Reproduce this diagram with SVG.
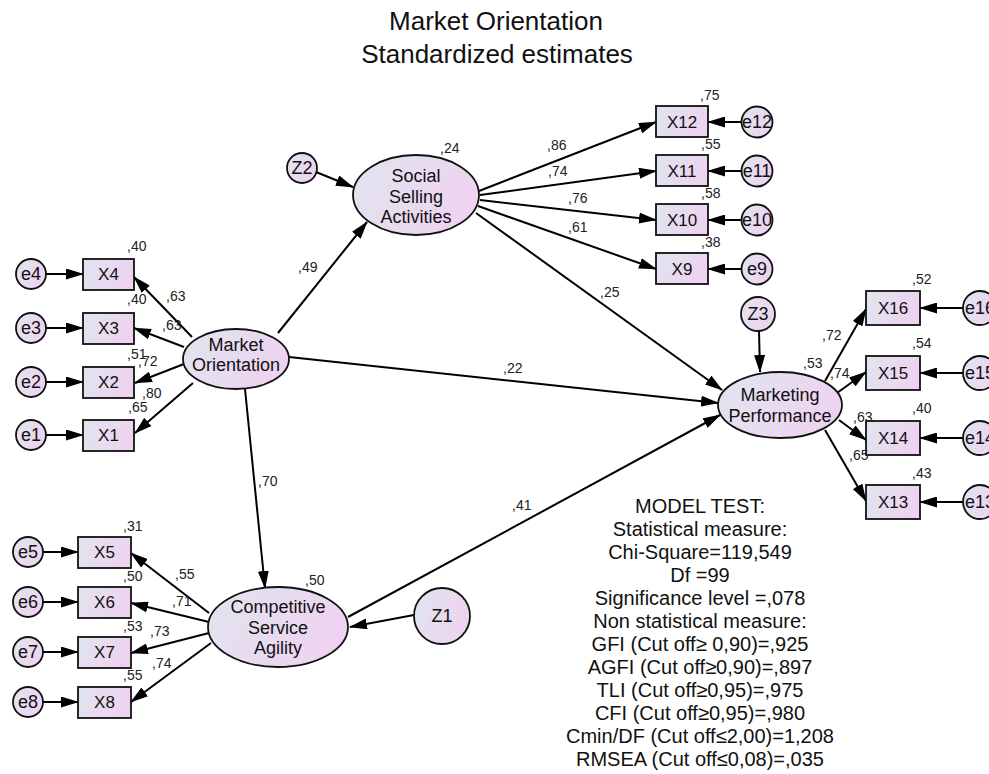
<svg xmlns="http://www.w3.org/2000/svg" width="989" height="774" viewBox="0 0 989 774">
<defs>
<linearGradient id="g" x1="0" y1="0" x2="1" y2="0.3">
<stop offset="0" stop-color="#e0e5ef"/>
<stop offset="1" stop-color="#eed3f0"/>
</linearGradient>
<marker id="ah" viewBox="0 0 18 11" refX="17" refY="5.5" markerWidth="18" markerHeight="11" markerUnits="userSpaceOnUse" orient="auto">
<path d="M0,0 L18,5.5 L0,11 z" fill="#000"/>
</marker>
</defs>
<style>
.n{fill:url(#g);stroke:#111;stroke-width:1.8}
.t{font-family:"Liberation Sans",Arial,sans-serif;font-size:18px;fill:#111;text-anchor:middle}
.bx{font-family:"Liberation Sans",Arial,sans-serif;font-size:17px;fill:#111;text-anchor:middle}
.l{font-family:"Liberation Sans",Arial,sans-serif;font-size:14px;fill:#222}
.c line{stroke:#000;stroke-width:2;marker-end:url(#ah)}
.title{font-family:"Liberation Sans",Arial,sans-serif;font-size:26px;fill:#111;text-anchor:middle}
.st{font-family:"Liberation Sans",Arial,sans-serif;font-size:20px;fill:#111;text-anchor:middle}
</style>
<rect width="989" height="774" fill="#fff"/>
<g id="title">
<text class="title" x="496" y="30">Market Orientation</text>
<text class="title" x="497" y="63">Standardized estimates</text>
</g>
<g class="c" id="connectors">
<line x1="46" y1="274" x2="83" y2="274"/>
<line x1="46" y1="328" x2="83" y2="328"/>
<line x1="46" y1="382" x2="83" y2="382"/>
<line x1="46" y1="435" x2="83" y2="435"/>
<line x1="43" y1="552" x2="78" y2="552"/>
<line x1="43" y1="602" x2="78" y2="602"/>
<line x1="43" y1="652" x2="78" y2="652"/>
<line x1="43" y1="702" x2="78" y2="702"/>
<line x1="209" y1="613" x2="131" y2="553"/>
<line x1="209" y1="622" x2="131" y2="603"/>
<line x1="209" y1="633" x2="131" y2="653"/>
<line x1="211" y1="643" x2="131" y2="702"/>
<line x1="192" y1="337" x2="134" y2="277"/>
<line x1="184" y1="347" x2="134" y2="328"/>
<line x1="184" y1="364" x2="135" y2="383"/>
<line x1="193" y1="383" x2="135" y2="433"/>
<line x1="278" y1="333" x2="367" y2="222"/>
<line x1="289" y1="357" x2="718" y2="403"/>
<line x1="245" y1="389" x2="265" y2="588"/>
<line x1="479" y1="191" x2="656" y2="122"/>
<line x1="480" y1="195" x2="656" y2="171"/>
<line x1="480" y1="200" x2="656" y2="220"/>
<line x1="478" y1="206" x2="656" y2="269"/>
<line x1="476" y1="213" x2="722" y2="390"/>
<line x1="316" y1="172" x2="353" y2="187"/>
<line x1="759" y1="331" x2="760" y2="372"/>
<line x1="348" y1="617" x2="720" y2="415"/>
<line x1="414" y1="615" x2="350" y2="627"/>
<line x1="825" y1="381" x2="866" y2="309"/>
<line x1="837" y1="393" x2="866" y2="372"/>
<line x1="839" y1="420" x2="866" y2="440"/>
<line x1="825" y1="430" x2="866" y2="501"/>
<line x1="963" y1="308" x2="920" y2="308"/>
<line x1="963" y1="373" x2="920" y2="373"/>
<line x1="963" y1="438" x2="920" y2="438"/>
<line x1="963" y1="502" x2="920" y2="502"/>
<line x1="742" y1="122" x2="708" y2="122"/>
<line x1="742" y1="171" x2="708" y2="171"/>
<line x1="742" y1="220" x2="708" y2="220"/>
<line x1="742" y1="269" x2="708" y2="269"/>
</g>
<g id="MO"><ellipse class="n" cx="236" cy="359" rx="53" ry="30"/><text class="t" x="236" y="351">Market</text><text class="t" x="236" y="371">Orientation</text></g>
<g id="SSA"><ellipse class="n" cx="416" cy="195" rx="63" ry="40"/><text class="t" x="416" y="182">Social</text><text class="t" x="416" y="203">Selling</text><text class="t" x="416" y="223">Activities</text></g>
<g id="CSA"><ellipse class="n" cx="278" cy="627" rx="70" ry="40"/><text class="t" x="278" y="613">Competitive</text><text class="t" x="278" y="634">Service</text><text class="t" x="278" y="654">Agility</text></g>
<g id="MP"><ellipse class="n" cx="780" cy="405" rx="62" ry="33"/><text class="t" x="780" y="401">Marketing</text><text class="t" x="780" y="422">Performance</text></g>
<g id="Z1"><circle class="n" cx="442" cy="616" r="28"/><text class="t" x="442" y="622">Z1</text></g>
<g id="Z2"><circle class="n" cx="302" cy="168" r="15"/><text class="t" x="302" y="174">Z2</text></g>
<g id="Z3"><circle class="n" cx="758" cy="314" r="17"/><text class="t" x="758" y="320">Z3</text></g>
<g id="X4"><rect class="n" x="83" y="259" width="51" height="31"/><text class="bx" x="108.5" y="280">X4</text></g>
<g id="X3"><rect class="n" x="83" y="313" width="51" height="31"/><text class="bx" x="108.5" y="334">X3</text></g>
<g id="X2"><rect class="n" x="83" y="367" width="51" height="31"/><text class="bx" x="108.5" y="388">X2</text></g>
<g id="X1"><rect class="n" x="83" y="420" width="51" height="31"/><text class="bx" x="108.5" y="441">X1</text></g>
<g id="e4"><circle class="n" cx="31" cy="274" r="15"/><text class="t" x="31" y="280">e4</text></g>
<g id="e3"><circle class="n" cx="31" cy="328" r="15"/><text class="t" x="31" y="334">e3</text></g>
<g id="e2"><circle class="n" cx="31" cy="382" r="15"/><text class="t" x="31" y="388">e2</text></g>
<g id="e1"><circle class="n" cx="31" cy="435" r="15"/><text class="t" x="31" y="441">e1</text></g>
<g id="X5"><rect class="n" x="78" y="537" width="53" height="31"/><text class="bx" x="104.5" y="558">X5</text></g>
<g id="X6"><rect class="n" x="78" y="587" width="53" height="31"/><text class="bx" x="104.5" y="608">X6</text></g>
<g id="X7"><rect class="n" x="78" y="637" width="53" height="31"/><text class="bx" x="104.5" y="658">X7</text></g>
<g id="X8"><rect class="n" x="78" y="687" width="53" height="31"/><text class="bx" x="104.5" y="708">X8</text></g>
<g id="e5"><circle class="n" cx="28" cy="552" r="15"/><text class="t" x="28" y="558">e5</text></g>
<g id="e6"><circle class="n" cx="28" cy="602" r="15"/><text class="t" x="28" y="608">e6</text></g>
<g id="e7"><circle class="n" cx="28" cy="652" r="15"/><text class="t" x="28" y="658">e7</text></g>
<g id="e8"><circle class="n" cx="28" cy="702" r="15"/><text class="t" x="28" y="708">e8</text></g>
<g id="X12"><rect class="n" x="656" y="106" width="52" height="31"/><text class="bx" x="682" y="128">X12</text></g>
<g id="X11"><rect class="n" x="656" y="155" width="52" height="31"/><text class="bx" x="682" y="177">X11</text></g>
<g id="X10"><rect class="n" x="656" y="204" width="52" height="31"/><text class="bx" x="682" y="226">X10</text></g>
<g id="X9"><rect class="n" x="656" y="253" width="52" height="31"/><text class="bx" x="682" y="275">X9</text></g>
<g id="e12"><circle class="n" cx="757" cy="122" r="15.5"/><text class="t" x="757" y="128">e12</text></g>
<g id="e11"><circle class="n" cx="757" cy="171" r="15.5"/><text class="t" x="757" y="177">e11</text></g>
<g id="e10"><circle class="n" cx="757" cy="220" r="15.5"/><text class="t" x="757" y="226">e10</text></g>
<g id="e9"><circle class="n" cx="757" cy="269" r="15.5"/><text class="t" x="757" y="275">e9</text></g>
<g id="X16"><rect class="n" x="866" y="291" width="54" height="34"/><text class="bx" x="893" y="314">X16</text></g>
<g id="X15"><rect class="n" x="866" y="356" width="54" height="34"/><text class="bx" x="893" y="379">X15</text></g>
<g id="X14"><rect class="n" x="866" y="421" width="54" height="34"/><text class="bx" x="893" y="444">X14</text></g>
<g id="X13"><rect class="n" x="866" y="485" width="54" height="34"/><text class="bx" x="893" y="508">X13</text></g>
<g id="e16"><circle class="n" cx="980" cy="308" r="17"/><text class="t" x="980" y="314">e16</text></g>
<g id="e15"><circle class="n" cx="980" cy="373" r="17"/><text class="t" x="980" y="379">e15</text></g>
<g id="e14"><circle class="n" cx="980" cy="438" r="17"/><text class="t" x="980" y="444">e14</text></g>
<g id="e13"><circle class="n" cx="980" cy="502" r="17"/><text class="t" x="980" y="508">e13</text></g>
<g id="labels">
<text class="l" x="127" y="251">,40</text>
<text class="l" x="166" y="301">,63</text>
<text class="l" x="127" y="304">,40</text>
<text class="l" x="162" y="330">,63</text>
<text class="l" x="127" y="359">,51</text>
<text class="l" x="138" y="366">,72</text>
<text class="l" x="142" y="398">,80</text>
<text class="l" x="128" y="412">,65</text>
<text class="l" x="298" y="272">,49</text>
<text class="l" x="440" y="153">,24</text>
<text class="l" x="547" y="150">,86</text>
<text class="l" x="548" y="176">,74</text>
<text class="l" x="568" y="203">,76</text>
<text class="l" x="568" y="232">,61</text>
<text class="l" x="600" y="297">,25</text>
<text class="l" x="700" y="100">,75</text>
<text class="l" x="701" y="149">,55</text>
<text class="l" x="701" y="198">,58</text>
<text class="l" x="701" y="247">,38</text>
<text class="l" x="912" y="284">,52</text>
<text class="l" x="912" y="348">,54</text>
<text class="l" x="912" y="413">,40</text>
<text class="l" x="912" y="478">,43</text>
<text class="l" x="822" y="340">,72</text>
<text class="l" x="803" y="368">,53</text>
<text class="l" x="830" y="378">,74</text>
<text class="l" x="853" y="422">,63</text>
<text class="l" x="849" y="460">,65</text>
<text class="l" x="503" y="373">,22</text>
<text class="l" x="258" y="486">,70</text>
<text class="l" x="512" y="510">,41</text>
<text class="l" x="305" y="585">,50</text>
<text class="l" x="123" y="531">,31</text>
<text class="l" x="175" y="579">,55</text>
<text class="l" x="123" y="581">,50</text>
<text class="l" x="172" y="606">,71</text>
<text class="l" x="123" y="631">,53</text>
<text class="l" x="150" y="636">,73</text>
<text class="l" x="152" y="668">,74</text>
<text class="l" x="123" y="680">,55</text>
</g>
<g id="modeltest">
<text class="st" x="700" y="513">MODEL TEST:</text>
<text class="st" x="700" y="536">Statistical measure:</text>
<text class="st" x="700" y="559">Chi-Square=119,549</text>
<text class="st" x="700" y="582">Df =99</text>
<text class="st" x="700" y="605">Significance level =,078</text>
<text class="st" x="700" y="628">Non statistical measure:</text>
<text class="st" x="700" y="651">GFI (Cut off≥ 0,90)=,925</text>
<text class="st" x="700" y="674">AGFI (Cut off≥0,90)=,897</text>
<text class="st" x="700" y="697">TLI (Cut off≥0,95)=,975</text>
<text class="st" x="700" y="720">CFI (Cut off≥0,95)=,980</text>
<text class="st" x="700" y="743">Cmin/DF (Cut off≤2,00)=1,208</text>
<text class="st" x="700" y="766">RMSEA (Cut off≤0,08)=,035</text>
</g>
</svg>
